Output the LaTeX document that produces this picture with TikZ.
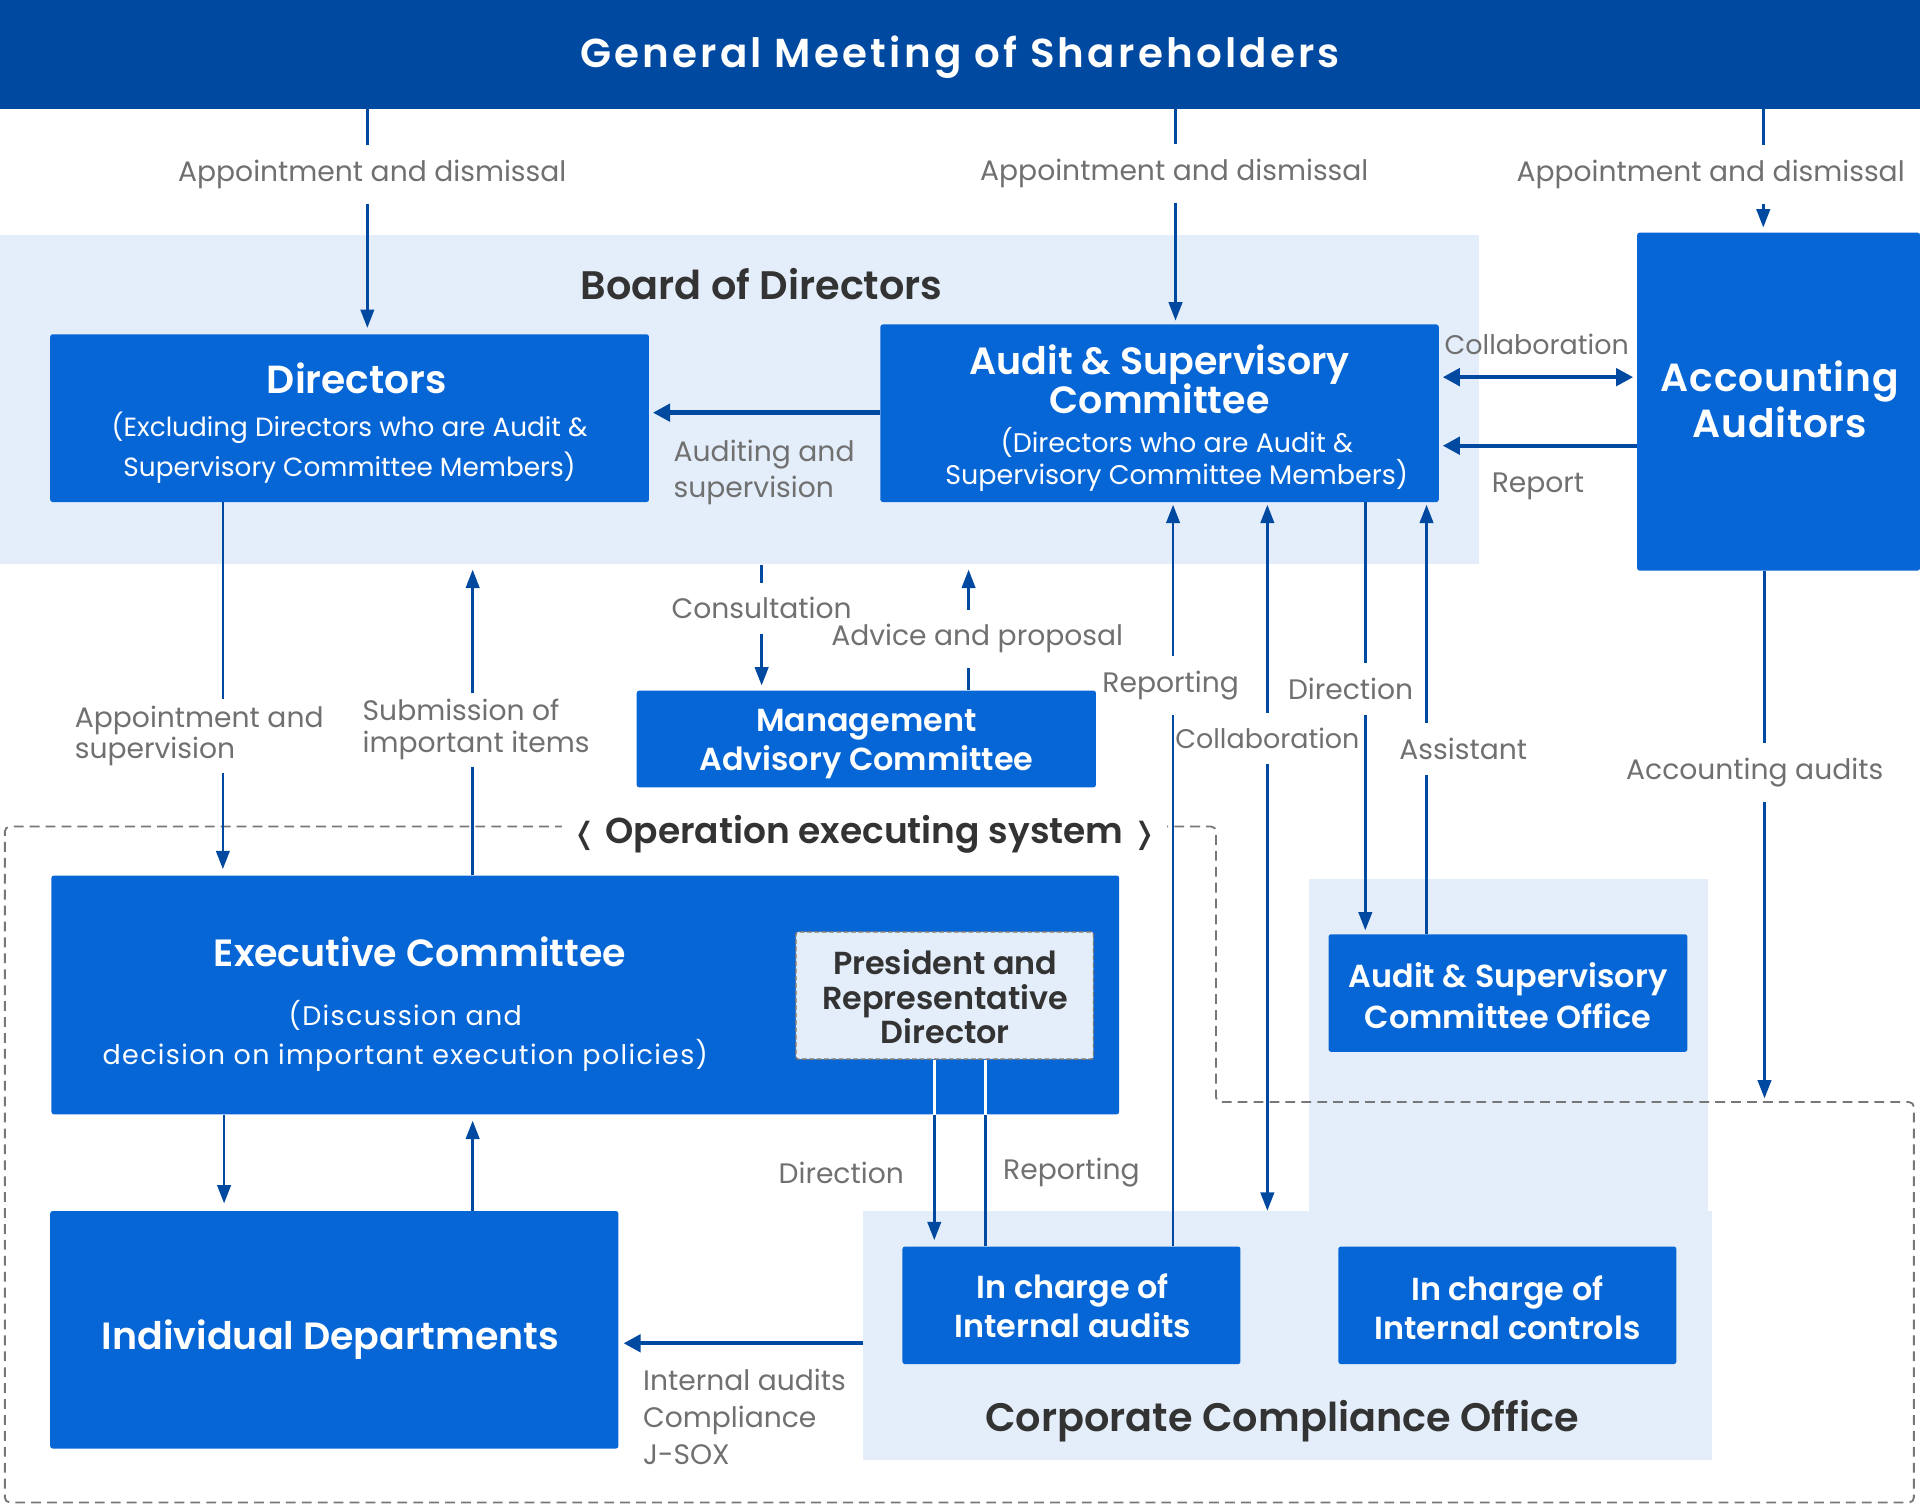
\documentclass[tikz,border=0pt]{standalone}
\usepackage{fontspec}
\setmainfont{Poppins}[BoldFont={* SemiBold}]
\newfontfamily\djv{DejaVu Sans}
\usetikzlibrary{arrows.meta}
\definecolor{dblue}{HTML}{0049A0}
\definecolor{bblue}{HTML}{0766D6}
\definecolor{lblue}{HTML}{E4EEFA}
\definecolor{gtext}{HTML}{707070}
\definecolor{dtext}{HTML}{333333}
\definecolor{dgray}{HTML}{777777}
\newcommand\fz[2]{\fontsize{#1}{#2}\selectfont\lineskiplimit=-1000pt\relax}
\begin{document}
\begin{tikzpicture}[x=1pt,y=-1pt,
 region/.style={fill=lblue, draw=none, inner sep=0pt, rectangle},
 bbox/.style={fill=bblue, draw=none, rounded corners=2pt, inner sep=0pt},
 btext/.style={text=white, align=center, inner sep=0pt},
 lbl/.style={text=gtext, font=\fz{23}{28}, inner sep=0pt, anchor=base},
 cut/.style={inner xsep=0pt, inner ysep=12pt},
 seg/.style={draw=dblue, line width=2.2pt},
 arr/.style={draw=dblue, line width=2.2pt, -{Triangle[width=11pt,length=15pt]}, shorten >=4pt},
 darr/.style={draw=dblue, line width=2.2pt, {Triangle[width=11pt,length=15pt]}-, shorten <=2pt},
 tarr/.style={draw=dblue, line width=3.6pt, -{Triangle[width=14pt,length=14pt]}, shorten >=3pt},
 wline/.style={draw=white, line width=2.2pt},
]
\useasboundingbox (0,0) rectangle (1568,1233);
% column / row coordinates
\foreach \x in {182,183,300,386,622,763,791,805,958,960,1035,1115,1165,1440,1441}{\coordinate (c\x) at (\x,0);}
\foreach \y in {308,337,364,1097}{\coordinate (r\y) at (0,\y);}
\coordinate (accend) at (1441,897);

% background regions
\node[region, minimum width=1208pt, minimum height=269pt] (board) at (604,326.5) {};
\node[region, minimum width=326pt, minimum height=272pt] (offreg) at (1232,854) {};
\node[region, minimum width=693pt, minimum height=203pt] (cco) at (1051.5,1090.5) {};
\node[text=dtext, font=\bfseries\fz{32.5}{36}, inner sep=0pt] (boardT) at (622,232) {Board of Directors};
\node[text=dtext, font=\bfseries\fz{32.5}{38}, inner sep=0pt, text depth=0pt] (ccoT) at (1047,1156) {Corporate Compliance Office};

% dashed operation border
\draw[dgray, dash pattern=on 8pt off 5pt, line width=1.5pt, rounded corners=4pt]
  (500,675) -- (993,675) -- (993,900) -- (1563,900) -- (1563,1227) -- (4,1227) -- (4,675) -- cycle;

% top band
\node[fill=dblue, minimum width=1568pt, minimum height=89pt, inner sep=0pt, text=white, text depth=4pt,
  font=\bfseries\fz{33}{38}\addfontfeatures{LetterSpace=8}] (gm) at (784,44.5) {General Meeting of Shareholders};

% boxes
\node[bbox, minimum width=489pt, minimum height=137pt] (dir) at (285.5,341.5) {};
\node[btext, font=\mdseries\fz{21.5}{32}] (dirT) at (285.5,345.5)
  {\hspace*{12pt}{\bfseries\fontsize{32}{32}\selectfont Directors}\\[3pt](Excluding Directors who are Audit \&\\Supervisory Committee Members)};
\node[bbox, minimum width=456pt, minimum height=145pt] (asc) at (947,337.5) {};
\node[btext, font=\mdseries\fz{22}{26}] (ascT) at (947,341.5)
  {{\bfseries\fontsize{31}{32}\selectfont Audit \& Supervisory}\\[6pt]{\bfseries\fontsize{31}{32}\selectfont Committee}\\[6pt]\hspace*{28pt}(Directors who are Audit \&\\\hspace*{28pt}Supervisory Committee Members)};
\node[bbox, minimum width=231pt, minimum height=276pt] (acc) at (1452.5,328) {};
\node[btext, font=\bfseries\fz{32}{37}\addfontfeatures{LetterSpace=2}] (accT) at (1453.5,326) {Accounting\\Auditors};
\node[bbox, minimum width=375pt, minimum height=79pt] (mac) at (707.5,603.5) {};
\node[btext, font=\bfseries\fz{26}{32}] (macT) at (707.5,607.5) {Management\\Advisory Committee};
\node[bbox, minimum width=872pt, minimum height=195pt] (exec) at (478,812.5) {};
\node[btext, font=\mdseries\fz{22}{32}\addfontfeatures{LetterSpace=5}] (execT) at (331,820)
  {\hspace*{24pt}{\bfseries\fontsize{31}{32}\selectfont\addfontfeatures{LetterSpace=0}Executive Committee}\\[16pt](Discussion and\\decision on important execution policies)};
\node[fill=lblue, draw=dgray, dash pattern=on 4pt off 2pt, line width=1.2pt, rounded corners=2pt, inner sep=0pt,
  minimum width=243pt, minimum height=104pt] (pres) at (771.5,813) {};
\node[align=center, text=dtext, inner sep=0pt, font=\bfseries\fz{26}{28}] (presT) at (772,814)
  {President and\\Representative\\Director};
\node[bbox, minimum width=464pt, minimum height=194pt] (ind) at (273,1086) {};
\node[btext, text depth=0pt, font=\bfseries\fz{31}{38}] (indT) at (270,1090) {Individual Departments};
\node[bbox, minimum width=293pt, minimum height=96pt] (ascoff) at (1231.5,811) {};
\node[btext, font=\bfseries\fz{26}{34}] (ascoffT) at (1231.5,813) {Audit \& Supervisory\\Committee Office};
\node[bbox, minimum width=276pt, minimum height=96pt] (ia) at (875,1066) {};
\node[btext, font=\bfseries\fz{26}{32}] (iaT) at (876,1066) {In charge of\\Internal audits};
\node[bbox, minimum width=276pt, minimum height=96pt] (ic) at (1231,1066) {};
\node[btext, font=\bfseries\fz{26}{32}] (icT) at (1231,1068) {In charge of\\Internal controls};

% labels
\node[lbl, cut] (lAD1) at (304,148.5) {Appointment and dismissal};
\node[lbl, cut] (lAD2) at (959,147.5) {Appointment and dismissal};
\node[lbl, cut] (lAD3) at (1397,148.5) {Appointment and dismissal};
\node[lbl, font=\fz{22}{28}] (lCol1) at (1255,289.5) {Collaboration};
\node[lbl] (lRep) at (1256,402.5) {Report};
\node[lbl, anchor=west, align=left, font=\fz{23}{29}] (lAS) at (550,386) {Auditing and\\supervision};
\node[lbl, anchor=west, align=left, font=\fz{23}{26}, inner ysep=5pt] (lApp) at (61,601) {Appointment and\\supervision};
\node[lbl, anchor=west, align=left, font=\fz{23}{26}, inner ysep=5pt] (lSub) at (296,596) {Submission of\\important items};
\node[lbl, cut] (lAdv) at (798,527.5) {Advice and proposal};
\node[lbl, cut] (lCons) at (622,505.5) {Consultation};
\node[lbl, cut] (lRpt1) at (956,565.5) {Reporting};
\node[lbl, cut] (lDir1) at (1103,571.5) {Direction};
\node[lbl, cut, font=\fz{22}{28}] (lCol2) at (1035,611.5) {Collaboration};
\node[lbl, cut] (lAsst) at (1195,620.5) {Assistant};
\node[lbl, cut] (lAcc) at (1433,636.5) {Accounting audits};
\node[lbl] (lDir2) at (687,966.5) {Direction};
\node[lbl] (lRpt2) at (875,963.5) {Reporting};
\node[lbl, anchor=west, align=left, font=\fz{23}{30}] (lIA) at (525,1157) {Internal audits\\Compliance\\J-SOX};
\node[fill=white, text=dtext, inner xsep=8pt, inner ysep=6pt, text depth=0pt, font=\bfseries\fz{29.4}{34}] (opT) at (706,677)
  {{\djv\bfseries\fontsize{24}{30}\selectfont ❬} Operation executing system {\djv\bfseries\fontsize{24}{30}\selectfont ❭}};

% connectors
\draw[seg] (gm.south -| c300) -- (lAD1.north -| c300);
\draw[arr, shorten >=5pt] (lAD1.south -| c300) -- (dir.north -| c300);
\draw[seg] (gm.south -| c960) -- (lAD2.north -| c960);
\draw[arr, shorten >=3pt] (lAD2.south -| c960) -- (asc.north -| c960);
\draw[seg] (gm.south -| c1440) -- (lAD3.north -| c1440);
\draw[arr] (lAD3.south -| c1440) -- (acc.north -| c1440);
\draw[tarr] (asc.west |- r337) -- (dir.east |- r337);
\draw[tarr, {Triangle[width=14pt,length=14pt]}-{Triangle[width=14pt,length=14pt]}, shorten <=3pt] (asc.east |- r308) -- (acc.west |- r308);
\draw[tarr] (acc.west |- r364) -- (asc.east |- r364);
\draw[seg] (dir.south -| c182) -- (lApp.north -| c182);
\draw[arr, shorten >=5pt] (lApp.south -| c182) -- (exec.north -| c182);
\draw[seg] (exec.north -| c386) -- (lSub.south -| c386);
\draw[arr] (lSub.north -| c386) -- (board.south -| c386);
\draw[seg] (board.south -| c622) -- (lCons.north -| c622);
\draw[arr] (lCons.south -| c622) -- (mac.north -| c622);
\draw[seg] (mac.north -| c791) -- (lAdv.south -| c791);
\draw[arr] (lAdv.north -| c791) -- (board.south -| c791);
\draw[seg] (ia.north -| c958) -- (lRpt1.south -| c958);
\draw[arr, shorten >=2pt] (lRpt1.north -| c958) -- (asc.south -| c958);
\draw[darr] (asc.south -| c1035) -- (lCol2.north -| c1035);
\draw[arr, shorten >=0pt] (lCol2.south -| c1035) -- (cco.north -| c1035);
\draw[seg] (asc.south -| c1115) -- (lDir1.north -| c1115);
\draw[arr, shorten >=3pt] (lDir1.south -| c1115) -- (ascoff.north -| c1115);
\draw[seg] (ascoff.north -| c1165) -- (lAsst.south -| c1165);
\draw[arr, shorten >=2pt] (lAsst.north -| c1165) -- (asc.south -| c1165);
\draw[seg] (acc.south -| c1441) -- (lAcc.north -| c1441);
\draw[arr, shorten >=0pt] (lAcc.south -| c1441) -- (accend);
\draw[arr, shorten >=6pt] (exec.south -| c183) -- (ind.north -| c183);
\draw[arr, shorten >=5pt] (ind.north -| c386) -- (exec.south -| c386);
\draw[arr, shorten >=5pt] (pres.south -| c763) -- (ia.north -| c763);
\draw[seg] (ia.north -| c805) -- (pres.south -| c805);
\draw[wline] (pres.south -| c763) -- (exec.south -| c763);
\draw[wline] (pres.south -| c805) -- (exec.south -| c805);
\draw[tarr, shorten >=4pt] (cco.west |- r1097) -- (ind.east |- r1097);
\end{tikzpicture}
\end{document}
